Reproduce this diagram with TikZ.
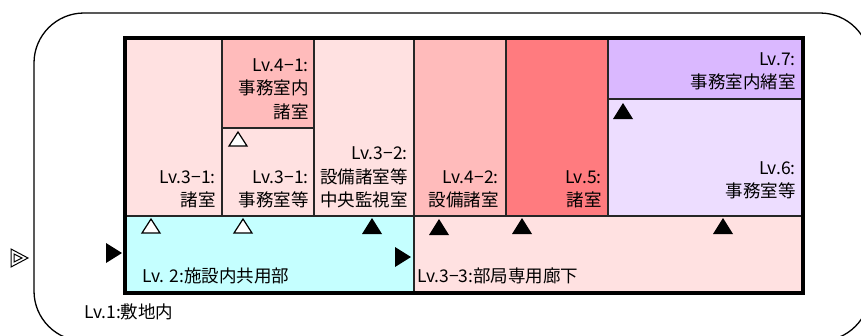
\documentclass[tikz,border=0pt]{standalone}
\usepackage{fontspec}
\setmainfont{Noto Sans CJK JP}
\definecolor{pinkL}{HTML}{FFE1E1}
\definecolor{pinkM}{HTML}{FFBBBB}
\definecolor{redR}{HTML}{FF7B7F}
\definecolor{violetV}{HTML}{DAB8FF}
\definecolor{lavL}{HTML}{EDDDFF}
\definecolor{cyanC}{HTML}{C5FFFF}
\begin{document}
\begin{tikzpicture}[x=1pt,y=-1pt,
  room/.style={draw=black!85, line width=1.3pt},
  lbl/.style={font=\fontsize{17.5}{23.5}\selectfont, inner sep=0pt, align=right, anchor=east},
  llbl/.style={font=\fontsize{17.5}{23.5}\selectfont, inner sep=0pt, anchor=west},
  tup/.pic={\fill[black] (-10,8) -- (10,8) -- (0,-8) -- cycle;},
  tuph/.pic={\draw[black, fill=white, line width=1.2pt, line join=miter] (-9,7) -- (9,7) -- (0,-7) -- cycle;},
  tright/.pic={\fill[black] (-8,-10) -- (8,0) -- (-8,10) -- cycle;},
  tdouble/.pic={\draw[black, line width=1pt, line join=miter] (-8,-9) -- (9,0) -- (-8,9) -- cycle;
                \draw[black, line width=1pt, line join=miter] (-5,-4) -- (3,0) -- (-5,4) -- cycle;}
]
\useasboundingbox (0,0) rectangle (861,335);
\clip (0,0) rectangle (861,335);
\fill[white] (0,0) rectangle (861,335);
\draw[line width=1.3pt, rounded corners=50pt] (34,13) rectangle (870,341);

% rooms
\draw[room, fill=pinkL]   (125,38)  rectangle (222,216);
\draw[room, fill=pinkM]   (222,38)  rectangle (314,128);
\draw[room, fill=pinkL]   (222,128) rectangle (314,216);
\draw[room, fill=pinkL]   (314,38)  rectangle (414,216);
\draw[room, fill=pinkM]   (414,38)  rectangle (506,216);
\draw[room, fill=redR]    (506,38)  rectangle (608,216);
\draw[room, fill=violetV] (608,38)  rectangle (803,99);
\draw[room, fill=lavL]    (608,99)  rectangle (803,216);
\draw[room, fill=cyanC]   (125,216) rectangle (414,293);
\draw[room, fill=pinkL]   (414,216) rectangle (803,293);
\draw[line width=3.5pt] (125,38) rectangle (803,293);

% labels
\node[lbl] (l31a) at (216,189.5) {Lv.3−1:\\諸室};
\node[lbl] (l41)  at (309,89)    {Lv.4−1:\\事務室内\\諸室};
\node[lbl] (l31b) at (309,189.5) {Lv.3−1:\\事務室等};
\node[lbl] (l32)  at (408,177.5) {Lv.3−2:\\設備諸室等\\中央監視室};
\node[lbl] (l42)  at (499,189.5) {Lv.4−2:\\設備諸室};
\node[lbl] (l5)   at (602,189.5) {Lv.5:\\諸室};
\node[lbl] (l7)   at (796,71.5)  {Lv.7:\\事務室内緒室};
\node[lbl] (l6)   at (796,180.5) {Lv.6:\\事務室等};
\node[llbl] (l2)  at (142,276) {Lv. 2:施設内共用部};
\node[llbl] (l33) at (417,276) {Lv.3−3:部局専用廊下};
\node[llbl] (l1)  at (84,312)  {Lv.1:敷地内};

% entrance marks
\pic at (19,258) {tdouble};
\pic at (114,253) {tright};
\pic at (403,257) {tright};
\pic at (151,226) {tuph};
\pic at (243,226) {tuph};
\pic at (238,139) {tuph};
\pic at (372,226) {tup};
\pic at (439,227) {tup};
\pic at (522,226) {tup};
\pic at (723,226) {tup};
\pic at (623,111) {tup};
\end{tikzpicture}
\end{document}
